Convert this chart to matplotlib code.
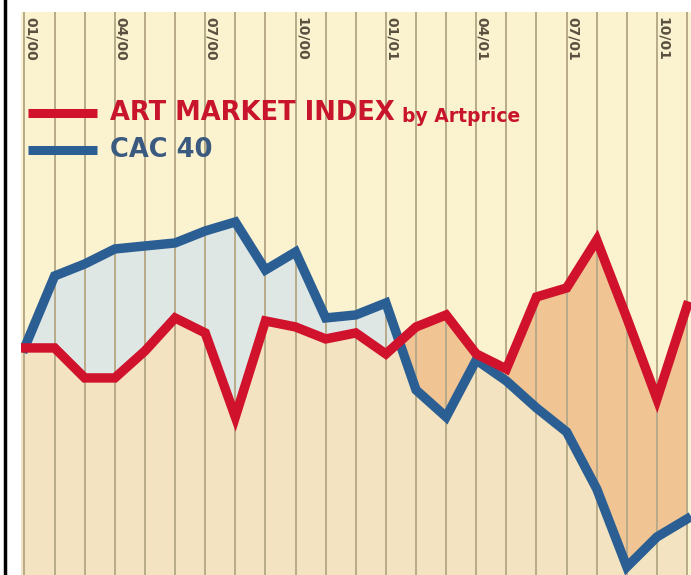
import numpy as np
import matplotlib.pyplot as plt
from matplotlib.lines import Line2D

# monthly points, 01/00 .. 11/01
months = ["01/00", "02/00", "03/00", "04/00", "05/00", "06/00", "07/00", "08/00",
          "09/00", "10/00", "11/00", "12/00", "01/01", "02/01", "03/01", "04/01",
          "05/01", "06/01", "07/01", "08/01", "09/01", "10/01", "11/01"]
art_index = [100, 100, 90, 90, 99, 110, 105, 77, 109, 107, 103, 105,
             98, 107, 111, 98, 93, 117, 120, 136, 110, 83, 114]
cac40 = [100, 124, 128, 133, 134, 135, 139, 142, 126, 132, 110, 111,
         115, 86, 77, 96, 89, 80, 72, 53, 27, 37, 43]
label_every = 3

RED = "#d0122c"
BLUE = "#2b5f94"

x = np.arange(len(months))
art = np.array(art_index, dtype=float)
cac = np.array(cac40, dtype=float)

fig = plt.figure(figsize=(6.91, 5.75), dpi=100)
ax = fig.add_axes([21 / 691, 0, 670 / 691, 563 / 575])
ax.set_xlim(-0.116, 22.13)
ax.set_ylim(24.3, 212)
ax.set_facecolor("#fbf2cf")
for s in ax.spines.values():
    s.set_visible(False)
ax.set_xticks([])
ax.set_yticks([])

# fills
low = np.minimum(art, cac)
ax.fill_between(x, 0, art, color="#f4e3c1", lw=0, zorder=1)
ax.fill_between(x, 0, cac, color="#f4e3c1", lw=0, zorder=1)
ax.fill_between(x, art, cac, where=cac >= art, interpolate=True,
                color="#dfe7e4", lw=0, zorder=1.5)
ax.fill_between(x, art, cac, where=art >= cac, interpolate=True,
                color="#f0c593", lw=0, zorder=1.5)
# extend the bottom fill to the left edge
ax.fill_between([-0.2, 0], 0, [low[0], low[0]], color="#f4e3c1", lw=0, zorder=1)

# vertical month lines
for xi in x:
    ax.axvline(xi, color="#b8ab8a", lw=1.4, zorder=2)

ax.plot(x, art, color=RED, lw=6.8, solid_joinstyle="miter", zorder=4)
ax.plot(x, cac, color=BLUE, lw=6.8, solid_joinstyle="miter", zorder=3)

# month labels on top
for i in range(0, len(months), label_every):
    ax.text(i + 0.2, 0.991, months[i], transform=ax.get_xaxis_transform(),
            rotation=270, ha="center", va="top", fontsize=10,
            color="#5a5040", fontweight="bold", zorder=5)

# legend
ax.plot([0.0104, 0.1134], [0.8206, 0.8206], transform=ax.transAxes,
        color=RED, lw=6.5, solid_capstyle="butt", zorder=5)
ax.plot([0.0104, 0.1134], [0.7549, 0.7549], transform=ax.transAxes,
        color=BLUE, lw=6.5, solid_capstyle="butt", zorder=5)
t1 = ax.text(0.1328, 0.8206, "ART MARKET INDEX", transform=ax.transAxes,
             ha="left", va="center", fontsize=18.5, fontweight="bold",
             color="#c8142c", zorder=5)
ax.annotate("by Artprice", xy=(1, 0), xycoords=t1, xytext=(5, 0),
            textcoords="offset points", ha="left", va="bottom", fontsize=13.5,
            fontweight="bold", color="#c8142c", zorder=5)
ax.text(0.1328, 0.7549, "CAC 40", transform=ax.transAxes,
        ha="left", va="center", fontsize=18.5, fontweight="bold",
        color="#3b5a80", zorder=5)

fig.add_artist(Line2D([4.5 / 691, 4.5 / 691], [0, 1], color="black", lw=2.5))

fig.savefig("out.png", dpi=100)
